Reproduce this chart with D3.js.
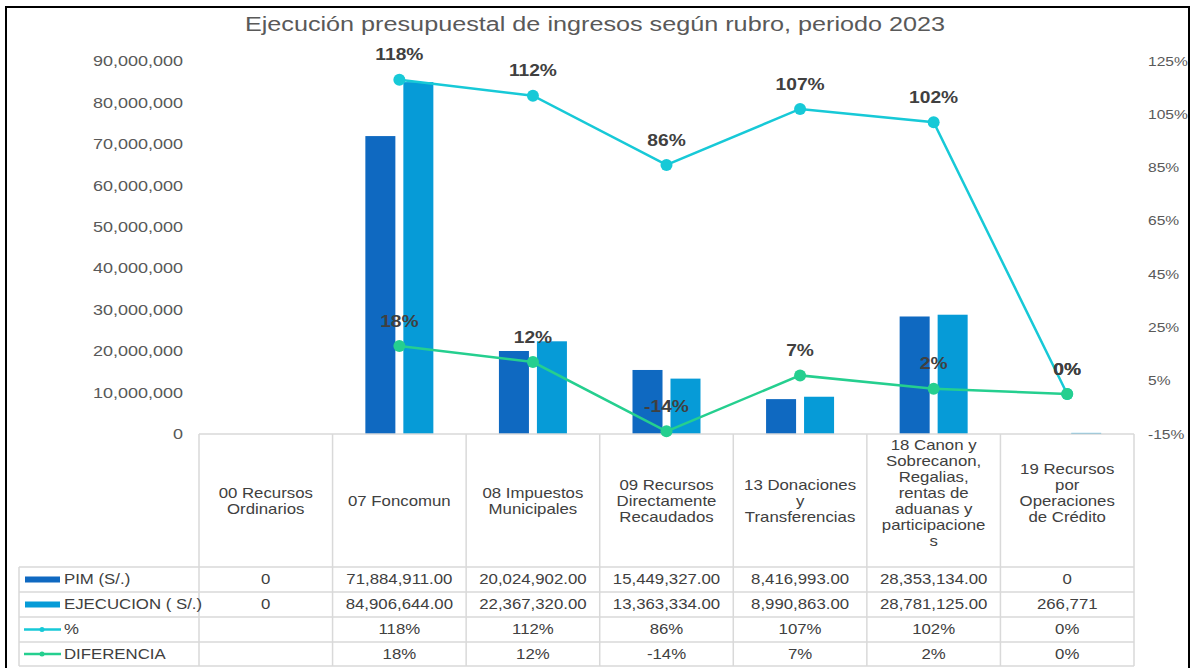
<!DOCTYPE html>
<html>
<head>
<meta charset="utf-8">
<script src="https://cdn.jsdelivr.net/npm/d3@7"></script>
<style>
  body { margin: 0; background: #fff; }
  svg text { font-family: "Liberation Sans", Arial, sans-serif; }
</style>
</head>
<body>
<div id="chart"></div>
<script>
// data
var categories = ["00 Recursos Ordinarios", "07 Foncomun", "08 Impuestos Municipales",
  "09 Recursos Directamente Recaudados", "13 Donaciones y Transferencias",
  "18 Canon y Sobrecanon, Regalias, rentas de aduanas y participaciones",
  "19 Recursos por Operaciones de Crédito"];
var headerLines = [
  ["00 Recursos", "Ordinarios"],
  ["07 Foncomun"],
  ["08 Impuestos", "Municipales"],
  ["09 Recursos", "Directamente", "Recaudados"],
  ["13 Donaciones", "y", "Transferencias"],
  ["18 Canon y", "Sobrecanon,", "Regalias,", "rentas de", "aduanas y", "participacione", "s"],
  ["19 Recursos", "por", "Operaciones", "de Crédito"]
];
var pim  = [0, 71884911, 20024902, 15449327, 8416993, 28353134, 0];
var ejec = [0, 84906644, 22367320, 13363334, 8990863, 28781125, 266771];
var pct  = [null, 118, 112, 86, 107, 102, 0];
var dif  = [null, 18, 12, -14, 7, 2, 0];
var cellFormat = [",", ",.2f", ",.2f", ",.2f", ",.2f", ",.2f", ","];
var leftTicks  = d3.range(0, 90000001, 10000000);
var rightTicks = d3.range(-15, 126, 20);

var W = 1194, H = 668, SX = 1.2;
var colors = {pim: "#0f69c1", ejec: "#069bd7", pct: "#17c9d7", dif: "#25cf8f"};

var svg = d3.select("#chart").append("svg")
    .attr("width", W)
    .attr("height", H);

// outer frame
svg.append("rect")
    .attr("x", 6).attr("y", 7)
    .attr("width", 1183).attr("height", 680)
    .attr("fill", "none").attr("stroke", "#000").attr("stroke-width", 2);

// stretched text helper (the picture is wider than tall)
function stext(g, x, y, str, size, opts) {
  opts = opts || {};
  return g.append("text")
    .attr("transform", "translate(" + x + "," + y + ") scale(" + SX + ",1)")
    .attr("text-anchor", opts.anchor || "middle")
    .attr("dy", "0.35em")
    .attr("font-size", size)
    .attr("font-weight", opts.weight || "normal")
    .attr("fill", opts.fill || "#404040")
    .text(str);
}

var x = d3.scaleBand()
    .domain(categories)
    .range([199, 1134]);

var sub = d3.scaleBand()
    .domain(["pim", "ejec"])
    .range([-34, 34])
    .paddingInner(0.21);

var y = d3.scaleLinear()
    .domain([0, 90000000])
    .range([434, 61]);

var y2 = d3.scaleLinear()
    .domain([-15, 125])
    .range([434, 61]);

// title
svg.append("text")
    .attr("transform", "translate(595,31) scale(" + SX + ",1)")
    .attr("text-anchor", "middle")
    .attr("font-size", 21)
    .attr("fill", "#595959")
    .text("Ejecución presupuestal de ingresos según rubro, periodo 2023");

// left axis labels
var fmtAxis = d3.format(",");
leftTicks.forEach(function(t) {
  stext(svg, 183, y(t), fmtAxis(t), 15, {anchor: "end", fill: "#595959"});
});

// right axis labels
rightTicks.forEach(function(t) {
  stext(svg, 1148, y2(t), t + "%", 13, {anchor: "start", fill: "#595959"});
});

// bars
var cx = function(i) { return x(categories[i]) + x.bandwidth() / 2; };
var bars = svg.append("g").attr("class", "bars");
[["pim", pim], ["ejec", ejec]].forEach(function(s) {
  bars.selectAll("rect." + s[0])
    .data(s[1])
    .enter().append("rect")
      .attr("class", s[0])
      .attr("x", function(d, i) { return cx(i) + sub(s[0]); })
      .attr("width", sub.bandwidth())
      .attr("y", function(d) { return y(d); })
      .attr("height", function(d) { return y(0) - y(d); })
      .attr("fill", colors[s[0]]);
});

// table grid
var grid = svg.append("g")
    .attr("stroke", "#d9d9d9")
    .attr("stroke-width", 1.5)
    .attr("fill", "none");
var rowY = [567, 592, 617, 642, 666];
grid.append("line").attr("x1", 199).attr("x2", 1134).attr("y1", 434).attr("y2", 434);
rowY.forEach(function(ry) {
  grid.append("line").attr("x1", 19).attr("x2", 1134).attr("y1", ry).attr("y2", ry);
});
grid.append("line").attr("x1", 19).attr("x2", 19).attr("y1", 567).attr("y2", 666);
categories.forEach(function(c) {
  grid.append("line").attr("x1", x(c)).attr("x2", x(c)).attr("y1", 434).attr("y2", 666);
});
grid.append("line").attr("x1", 1134).attr("x2", 1134).attr("y1", 434).attr("y2", 666);

// lines
var lineGen = d3.line()
    .defined(function(d) { return d.v != null; })
    .x(function(d) { return cx(d.i); })
    .y(function(d) { return y2(d.v); });

[["pct", pct], ["dif", dif]].forEach(function(s) {
  var pts = s[1].map(function(v, i) { return {v: v, i: i}; });
  svg.append("path")
      .datum(pts)
      .attr("d", lineGen)
      .attr("fill", "none")
      .attr("stroke", colors[s[0]])
      .attr("stroke-width", 2.5);
  svg.selectAll("circle." + s[0])
    .data(pts.filter(function(d) { return d.v != null; }))
    .enter().append("circle")
      .attr("class", s[0])
      .attr("cx", function(d) { return cx(d.i); })
      .attr("cy", function(d) { return y2(d.v); })
      .attr("r", 6)
      .attr("fill", colors[s[0]]);
});

// data labels
[pct, dif].forEach(function(arr) {
  arr.forEach(function(d, i) {
    if (d == null) return;
    stext(svg, cx(i), y2(d) - 25, d + "%", 16, {weight: "bold", fill: "#404040"});
  });
});

// header cells
headerLines.forEach(function(lines, i) {
  var n = lines.length;
  var mid = n > 3 ? 493 : 501;
  var y0 = mid - (n - 1) * 8;
  lines.forEach(function(l, k) {
    stext(svg, cx(i), y0 + k * 16, l, 14, {fill: "#404040"});
  });
});

// table rows
var pctFmt = function(v) { return v == null ? "" : v + "%"; };
var rows = [
  {name: "PIM (S/.)", key: "pim", vals: pim.map(function(v, i) { return d3.format(cellFormat[i])(v); })},
  {name: "EJECUCION ( S/.)", key: "ejec", vals: ejec.map(function(v, i) { return d3.format(cellFormat[i])(v); })},
  {name: "%", key: "pct", vals: pct.map(pctFmt)},
  {name: "DIFERENCIA", key: "dif", vals: dif.map(pctFmt)}
];
rows.forEach(function(r, k) {
  var ym = (rowY[k] + rowY[k + 1]) / 2;
  if (r.key == "pim" || r.key == "ejec") {
    svg.append("rect").attr("x", 25).attr("y", ym - 3).attr("width", 35).attr("height", 6)
      .attr("fill", colors[r.key]);
  } else {
    svg.append("line").attr("x1", 24).attr("x2", 61).attr("y1", ym).attr("y2", ym)
      .attr("stroke", colors[r.key]).attr("stroke-width", 2.5);
    svg.append("circle").attr("cx", 42).attr("cy", ym).attr("r", 2.5).attr("fill", colors[r.key]);
  }
  stext(svg, 64, ym, r.name, 14, {anchor: "start", fill: "#404040"});
  r.vals.forEach(function(v, i) {
    stext(svg, cx(i), ym, v, 14, {fill: "#404040"});
  });
});
</script>
</body>
</html>
